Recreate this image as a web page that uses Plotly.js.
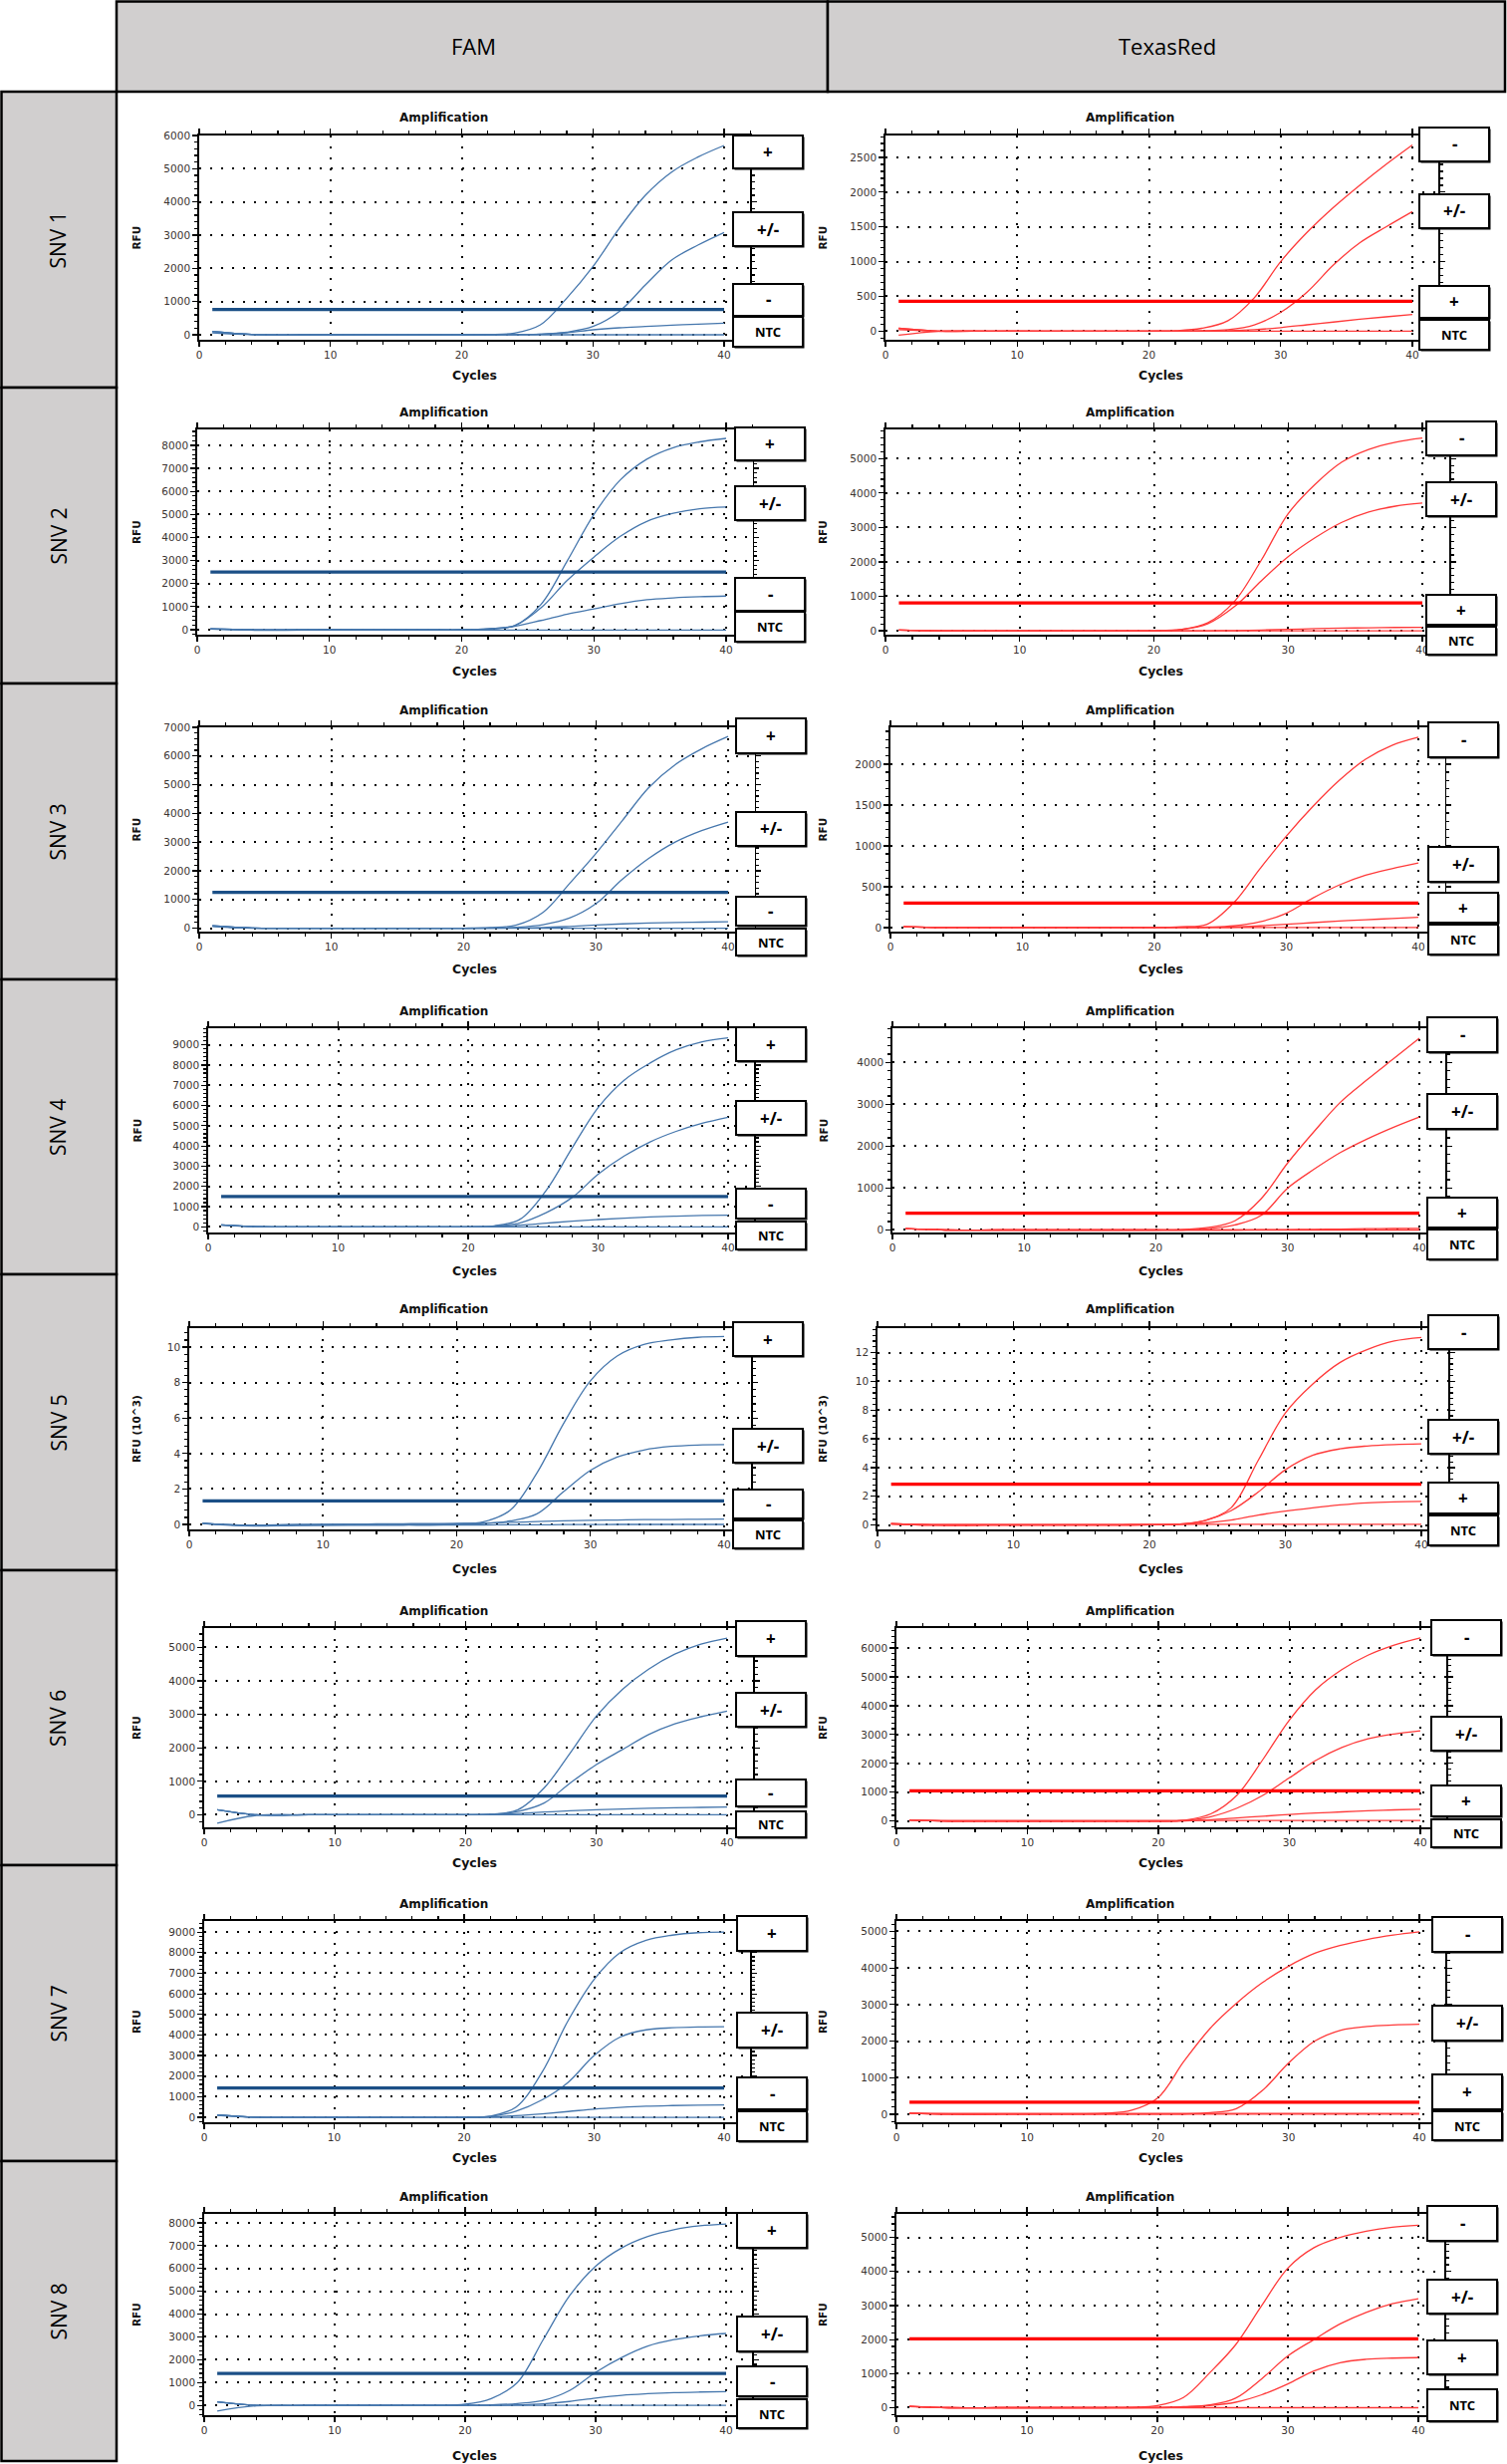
<!DOCTYPE html>
<html><head><meta charset="utf-8">
<script src="https://cdn.plot.ly/plotly-3.0.1.min.js"></script>
<style>html,body{margin:0;padding:0;background:#fff}#chart{width:1513px;height:2473px}</style>
</head><body><div id="chart"></div>
<script>
// ---------------- DATA ----------------
const CYCLES = [1,4,8,12,14,16,18,20,22,24,26,28,30,32,34,36,38,40];
const SNV_LABELS = ['SNV 1','SNV 2','SNV 3','SNV 4','SNV 5','SNV 6','SNV 7','SNV 8'];
const COLUMN_LABELS = ['FAM','TexasRed'];
const FAM_BOX_LABELS = ['+','+/-','-','NTC'];
const TR_BOX_LABELS = ['-','+/-','+','NTC'];
const X_TICKS = [0,10,20,30,40];

const FAM_THRESHOLD = [760,2500,1250,1500,1.33,560,1420,1400];
const TR_THRESHOLD  = [430,810,300,400,2.85,1050,330,2020];

const FAM_Y_STEP = [1000,1000,1000,1000,2,1000,1000,1000];
const TR_Y_STEP  = [500,1000,500,1000,2,1000,1000,1000];

// FAM
const fam1_hi  = [100,10,0,0,0,0,0,0,10,50,300,1100,2050,3200,4200,4900,5350,5700];
const fam1_mid = [100,10,0,0,0,0,0,0,0,10,20,80,250,700,1500,2250,2700,3080];
const fam1_low = [100,10,0,0,0,0,0,0,0,5,20,60,150,210,250,290,320,350];
const fam1_ntc = [60,5,0,0,0,0,0,0,0,0,0,0,0,0,0,0,0,0];

const fam2_hi  = [40,0,0,0,0,0,0,0,40,180,1100,3000,5000,6500,7400,7900,8150,8300];
const fam2_mid = [40,0,0,0,0,0,0,0,40,170,950,2150,3150,4050,4700,5050,5250,5320];
const fam2_low = [40,0,0,0,0,0,0,0,30,150,400,680,900,1130,1300,1380,1430,1460];
const fam2_ntc = [30,-20,-20,-20,-20,-20,-20,-20,-20,-20,-20,-20,-20,-20,-20,-20,-20,-20];

const fam3_hi  = [80,5,0,0,0,0,0,0,20,110,550,1550,2600,3750,4900,5700,6250,6680];
const fam3_mid = [80,5,0,0,0,0,0,0,5,30,120,350,850,1700,2430,3000,3400,3700];
const fam3_low = [80,5,0,0,0,0,0,0,0,5,20,60,110,150,180,200,210,220];
const fam3_ntc = [60,0,0,0,0,0,0,0,0,0,0,0,0,0,0,0,0,0];

const fam4_hi  = [100,10,0,0,0,0,0,0,50,380,1800,3900,5900,7250,8100,8750,9150,9350];
const fam4_mid = [100,10,0,0,0,0,0,0,30,200,700,1450,2600,3500,4200,4720,5120,5420];
const fam4_low = [100,10,0,0,0,0,0,0,20,80,180,280,360,430,490,530,560,580];
const fam4_ntc = [80,0,0,0,0,0,0,0,0,0,0,0,0,0,0,0,0,0];

const fam5_hi  = [0.08,-0.05,-0.03,0,0,0,0.02,0.05,0.15,0.8,2.9,5.7,8.1,9.5,10.15,10.4,10.55,10.6];
const fam5_mid = [0.08,-0.05,-0.03,0,0,0,0.02,0.03,0.05,0.2,0.6,1.85,3.05,3.8,4.2,4.4,4.48,4.5];
const fam5_low = [0.05,-0.03,0,0.02,0.03,0.04,0.05,0.05,0.08,0.12,0.16,0.2,0.23,0.25,0.27,0.28,0.29,0.3];
const fam5_ntc = [0.05,-0.08,-0.06,-0.05,-0.05,-0.04,-0.04,-0.03,-0.03,-0.02,-0.02,-0.01,-0.01,0,0,0,0,0];

const fam6_hi  = [150,0,0,0,0,0,0,0,20,150,800,1850,2950,3750,4350,4800,5100,5280];
const fam6_mid = [150,0,0,0,0,0,0,0,15,100,350,950,1500,1950,2400,2720,2930,3100];
const fam6_low = [150,0,0,0,0,0,0,0,10,40,80,120,150,175,195,210,220,230];
const fam6_ntc = [-250,-20,0,0,0,0,0,0,0,0,0,0,0,0,0,0,0,0];

const fam7_hi  = [120,10,0,0,0,0,0,0,60,500,2200,4700,6700,8000,8600,8850,8970,9000];
const fam7_mid = [120,10,0,0,0,0,0,0,40,300,850,1700,3000,3900,4250,4350,4390,4400];
const fam7_low = [120,10,0,0,0,0,0,0,20,80,170,280,400,480,540,570,590,600];
const fam7_ntc = [100,0,0,0,0,0,0,0,0,0,0,0,0,0,0,0,0,0];

const fam8_hi  = [150,0,0,0,0,0,0,50,300,1000,2900,4800,6100,6900,7400,7700,7870,7950];
const fam8_mid = [150,0,0,0,0,0,0,0,20,80,220,650,1450,2100,2600,2880,3050,3150];
const fam8_low = [150,0,0,0,0,0,0,0,0,20,70,170,320,440,510,560,585,600];
const fam8_ntc = [-250,-20,0,0,0,0,0,0,0,0,0,0,0,0,0,0,0,0];

// TexasRed
const tr1_hi  = [40,0,0,0,0,0,0,0,5,40,150,480,1000,1420,1780,2100,2400,2680];
const tr1_mid = [40,0,0,0,0,0,0,0,0,5,20,90,270,560,950,1270,1500,1720];
const tr1_low = [-60,-5,0,0,0,0,0,0,0,0,5,20,50,90,130,170,205,240];
const tr1_ntc = [20,0,0,0,0,0,0,0,0,0,0,0,0,0,0,0,0,0];

const tr2_hi  = [20,0,0,0,0,0,0,0,40,230,850,2050,3400,4250,4900,5270,5480,5600];
const tr2_mid = [20,0,0,0,0,0,0,0,30,200,700,1450,2150,2700,3150,3450,3620,3710];
const tr2_low = [20,0,0,0,0,0,0,0,0,0,5,20,40,60,75,85,95,100];
const tr2_ntc = [20,0,0,0,0,0,0,0,0,0,0,0,0,0,0,0,0,0];

const tr3_hi  = [10,0,0,0,0,0,0,0,10,40,300,720,1120,1480,1800,2060,2230,2330];
const tr3_mid = [10,0,0,0,0,0,0,0,0,5,20,70,175,360,520,640,720,790];
const tr3_low = [10,0,0,0,0,0,0,0,0,0,5,20,40,60,80,95,110,125];
const tr3_ntc = [10,0,0,0,0,0,0,0,0,0,0,0,0,0,0,0,0,0];

const tr4_hi  = [30,0,0,0,0,0,0,0,10,60,220,750,1600,2350,3050,3580,4080,4580];
const tr4_mid = [30,0,0,0,0,0,0,0,0,30,120,350,1000,1450,1850,2170,2450,2700];
const tr4_low = [30,0,0,0,0,0,0,0,0,0,0,5,10,15,20,30,35,40];
const tr4_ntc = [30,0,0,0,0,0,0,0,0,0,0,0,0,0,0,0,0,0];

const tr5_hi  = [0.1,0,0,0,0,0,0.01,0.02,0.05,0.3,1.2,4.5,7.8,9.8,11.3,12.2,12.8,13.05];
const tr5_mid = [0.1,0,0,0,0,0,0.01,0.02,0.05,0.3,1.0,2.3,3.85,4.85,5.3,5.5,5.6,5.65];
const tr5_low = [0.1,0,0,0,0,0,0.01,0.02,0.05,0.15,0.35,0.7,0.97,1.2,1.4,1.55,1.62,1.65];
const tr5_ntc = [0.05,0.05,0.05,0.05,0.05,0.05,0.05,0.05,0.05,0.05,0.05,0.05,0.05,0.05,0.05,0.05,0.05,0.05];

const tr6_hi  = [40,0,0,0,0,0,0,0,30,250,900,2150,3500,4550,5250,5750,6100,6350];
const tr6_mid = [40,0,0,0,0,0,0,0,20,150,450,900,1500,2100,2550,2850,3020,3130];
const tr6_low = [40,0,0,0,0,0,0,0,10,50,110,170,230,280,320,360,390,410];
const tr6_ntc = [30,20,20,20,20,20,20,20,20,20,20,20,20,20,20,20,20,20];

const tr7_hi  = [30,0,0,0,5,25,110,450,1450,2350,3030,3600,4050,4400,4620,4780,4900,4990];
const tr7_mid = [30,0,0,0,0,0,0,0,5,40,150,650,1400,2000,2300,2400,2440,2460];
const tr7_low = [30,20,20,20,20,20,20,20,20,20,20,20,20,20,20,20,20,20];
const tr7_ntc = [30,0,0,0,0,0,0,0,0,0,0,0,0,0,0,0,0,0];

const tr8_hi  = [40,0,0,0,0,0,10,60,300,1020,1850,3000,4100,4700,5000,5180,5300,5360];
const tr8_mid = [40,0,0,0,0,0,0,10,30,80,280,850,1520,2000,2460,2800,3050,3200];
const tr8_low = [40,0,0,0,0,0,0,0,20,60,160,380,700,1080,1320,1420,1455,1470];
const tr8_ntc = [30,0,0,0,0,0,0,0,0,0,0,0,0,0,0,0,0,0];

const FAM_CURVES = [
  [fam1_hi,fam1_mid,fam1_low,fam1_ntc],[fam2_hi,fam2_mid,fam2_low,fam2_ntc],
  [fam3_hi,fam3_mid,fam3_low,fam3_ntc],[fam4_hi,fam4_mid,fam4_low,fam4_ntc],
  [fam5_hi,fam5_mid,fam5_low,fam5_ntc],[fam6_hi,fam6_mid,fam6_low,fam6_ntc],
  [fam7_hi,fam7_mid,fam7_low,fam7_ntc],[fam8_hi,fam8_mid,fam8_low,fam8_ntc]];
const TR_CURVES = [
  [tr1_hi,tr1_mid,tr1_low,tr1_ntc],[tr2_hi,tr2_mid,tr2_low,tr2_ntc],
  [tr3_hi,tr3_mid,tr3_low,tr3_ntc],[tr4_hi,tr4_mid,tr4_low,tr4_ntc],
  [tr5_hi,tr5_mid,tr5_low,tr5_ntc],[tr6_hi,tr6_mid,tr6_low,tr6_ntc],
  [tr7_hi,tr7_mid,tr7_low,tr7_ntc],[tr8_hi,tr8_mid,tr8_low,tr8_ntc]];

// ---------------- GEOMETRY (pixels) ----------------
const W = 1513, H = 2473;
const px = x => x / W, py = y => 1 - y / H;
const ROW_EDGES = [92,389,686,983,1279,1576,1872,2169,2470];
const PLOT_TOP = [136,431,730,1032,1333,1634,1928,2222];
const PLOT_BOT = [341,637,935,1237,1535,1834,2130,2424];
const FAM_LEFT = [200,198,200,209,190,205,205,205];
const FAM_X40  = [727,729,731,731,727,730,727,729];
const TR_LEFT  = [889,889,894,896,881,900,900,900];
const TR_X40   = [1418,1428,1424,1425,1427,1426,1425,1424];
const TITLE_Y  = [118,414,713,1015,1314,1617,1911,2205];
const CYCLES_Y = [377,673,973,1275,1574,1869,2165,2464];
const FAM_BOX_X = [736,738,739,739,736,739,740,740];
const TR_BOX_X  = [1425,1432,1434,1433,1434,1437,1438,1433];
const FAM_BOX_Y = [
 [[136,169],[213,247],[285,317],[318,348]],
 [[429,462],[488,522],[580,613],[614,644]],
 [[721,756],[815,849],[900,929],[932,959]],
 [[1031,1065],[1105,1139],[1193,1223],[1226,1254]],
 [[1327,1361],[1434,1468],[1495,1524],[1526,1554]],
 [[1627,1662],[1699,1733],[1786,1813],[1818,1844]],
 [[1923,1958],[2020,2055],[2085,2117],[2119,2149]],
 [[2221,2256],[2325,2360],[2375,2405],[2408,2437]]];
const TR_BOX_Y = [
 [[128,162],[195,229],[287,319],[321,351]],
 [[423,457],[484,518],[597,627],[629,657]],
 [[725,760],[850,885],[896,926],[928,958]],
 [[1021,1056],[1098,1133],[1202,1232],[1234,1264]],
 [[1320,1354],[1425,1459],[1488,1519],[1521,1551]],
 [[1626,1661],[1723,1757],[1792,1823],[1826,1854]],
 [[1924,1959],[2013,2048],[2082,2117],[2119,2148]],
 [[2214,2249],[2288,2322],[2349,2383],[2398,2430]]];
const Y_RANGES_FAM = [[-150,6000],[-216,8690],[-120,7000],[-280,9820],[-0.28,11.07],[-375,5580],[-240,9540],[-430,8390]];
const Y_RANGES_TR  = [[-125,2816],[-115,5850],[-50,2450],[-60,4820],[-0.3,13.7],[-215,6690],[-220,5285],[-220,5690]];

const FAM_CURVE_COLOR = '#4677ad', FAM_THR_COLOR = '#1b4f86';
const TR_CURVE_COLOR = '#ff3a3a', TR_THR_COLOR = '#ff0000';
const HEADER_FILL = '#d1cfcf';

const layout = {
  width: W, height: H, margin: {l:0,r:0,t:0,b:0},
  paper_bgcolor: '#fff', plot_bgcolor: '#fff', showlegend: false,
  font: {family: 'DejaVu Sans, sans-serif', color: '#000'},
  shapes: [], annotations: []
};
const traces = [];
function ann(x, y, text, font, extra) {
  layout.annotations.push(Object.assign({xref:'paper', yref:'paper', x:px(x), y:py(y), text:text,
    showarrow:false, xanchor:'center', yanchor:'middle', font:font}, extra || {}));
}

// header + left column
layout.shapes.push({type:'rect',xref:'paper',yref:'paper',x0:px(117),x1:px(831),y0:py(92),y1:py(1.5),fillcolor:HEADER_FILL,line:{color:'#000',width:2.5},layer:'below'});
layout.shapes.push({type:'rect',xref:'paper',yref:'paper',x0:px(831),x1:px(1511),y0:py(92),y1:py(1.5),fillcolor:HEADER_FILL,line:{color:'#000',width:2.5},layer:'below'});
ann(475, 46, COLUMN_LABELS[0], {family:'Open Sans, sans-serif', size:22, color:'#000'});
ann(1172, 46, COLUMN_LABELS[1], {family:'Open Sans, sans-serif', size:22, color:'#000'});
for (let r = 0; r < 8; r++) {
  layout.shapes.push({type:'rect',xref:'paper',yref:'paper',x0:px(1.5),x1:px(117),y0:py(ROW_EDGES[r+1]),y1:py(ROW_EDGES[r]),fillcolor:HEADER_FILL,line:{color:'#000',width:2.5},layer:'below'});
  ann(58, (ROW_EDGES[r]+ROW_EDGES[r+1])/2, SNV_LABELS[r], {family:'Open Sans, sans-serif', size:21, color:'#000'}, {textangle:-90});
}

function axisCommon() {
  return {
    showline:true, linecolor:'#000', linewidth:1.8, mirror:'ticks',
    ticks:'outside', ticklen:5, tickwidth:1.2, tickcolor:'#000',
    showgrid:true, gridcolor:'#000', gridwidth:2, griddash:'2px,9px',
    zeroline:false, fixedrange:true, exponentformat:'none', separatethousands:false,
    tickfont:{family:'DejaVu Sans, sans-serif', size:10.5, color:'#3b3330'}
  };
}

let n = 0;
for (let r = 0; r < 8; r++) {
  for (let c = 0; c < 2; c++) {
    n++;
    const xk = n === 1 ? 'xaxis' : 'xaxis' + n;
    const yk = n === 1 ? 'yaxis' : 'yaxis' + n;
    const xr = n === 1 ? 'x' : 'x' + n;
    const yr = n === 1 ? 'y' : 'y' + n;
    const isFam = c === 0;
    const left = isFam ? FAM_LEFT[r] : TR_LEFT[r];
    const x40 = isFam ? FAM_X40[r] : TR_X40[r];
    const right = left + (x40 - left) * 42 / 40;
    const top = PLOT_TOP[r], bot = PLOT_BOT[r];
    const yStep = isFam ? FAM_Y_STEP[r] : TR_Y_STEP[r];
    const yRange = isFam ? Y_RANGES_FAM[r] : Y_RANGES_TR[r];

    layout[xk] = Object.assign(axisCommon(), {
      domain:[px(left), px(right)], range:[0,42], anchor:yr,
      tickmode:'array', tickvals:X_TICKS,
      minor:{ticks:'outside', tickmode:'linear', tick0:0, dtick:2, ticklen:3, tickcolor:'#000', showgrid:false}
    });
    layout[yk] = Object.assign(axisCommon(), {
      domain:[py(bot), py(top)], range:yRange, anchor:xr,
      tick0:0, dtick:yStep, tickmode:'linear', tickformat:'d',
      minor:{ticks:'outside', tickmode:'linear', tick0:0, dtick:yStep/5, ticklen:3, tickcolor:'#000', showgrid:false}
    });

    const curves = isFam ? FAM_CURVES[r] : TR_CURVES[r];
    const col = isFam ? FAM_CURVE_COLOR : TR_CURVE_COLOR;
    curves.forEach(arr => traces.push({
      type:'scatter', mode:'lines', x:CYCLES, y:arr, xaxis:xr, yaxis:yr,
      line:{color:col, width:1.3, shape:'spline', smoothing:1.0}, hoverinfo:'skip'
    }));
    const thr = isFam ? FAM_THRESHOLD[r] : TR_THRESHOLD[r];
    traces.push({type:'scatter', mode:'lines', x:[CYCLES[0], CYCLES[CYCLES.length-1]], y:[thr, thr], xaxis:xr, yaxis:yr,
      line:{color:isFam ? FAM_THR_COLOR : TR_THR_COLOR, width:3.2}, hoverinfo:'skip'});

    // texts
    const titleX = isFam ? 445 : 1134;
    const cycX = isFam ? 476 : 1165;
    const rfuX = isFam ? 137 : 826;
    ann(titleX, TITLE_Y[r], 'Amplification', {family:'DejaVu Sans, sans-serif', size:12, weight:'bold', color:'#111'});
    ann(cycX, CYCLES_Y[r], 'Cycles', {family:'DejaVu Sans, sans-serif', size:12.5, weight:'bold', color:'#111'});
    ann(rfuX, (top+bot)/2, (r === 4 ? 'RFU (10^3)' : 'RFU'), {family:'DejaVu Sans, sans-serif', size:10.5, weight:'bold', color:'#111'}, {textangle:-90});

    // label boxes
    const bx = isFam ? FAM_BOX_X[r] : TR_BOX_X[r];
    const boxes = isFam ? FAM_BOX_Y[r] : TR_BOX_Y[r];
    const labels = isFam ? FAM_BOX_LABELS : TR_BOX_LABELS;
    boxes.forEach((b, i) => {
      layout.shapes.push({type:'rect',xref:'paper',yref:'paper',x0:px(bx+1.5),x1:px(bx+71.5),y0:py(b[1]+1.5),y1:py(b[0]+1.5),fillcolor:'#000',line:{width:0}});
      layout.shapes.push({type:'rect',xref:'paper',yref:'paper',x0:px(bx),x1:px(bx+70),y0:py(b[1]),y1:py(b[0]),fillcolor:'#fff',line:{color:'#000',width:2}});
      ann(bx+35, (b[0]+b[1])/2, labels[i], {family:'Noto Sans, sans-serif', size:labels[i]==='NTC'?13:17, weight:'bold', color:'#000'});
    });
  }
}

Plotly.newPlot('chart', traces, layout, {displayModeBar:false, staticPlot:true});
</script></body></html>
